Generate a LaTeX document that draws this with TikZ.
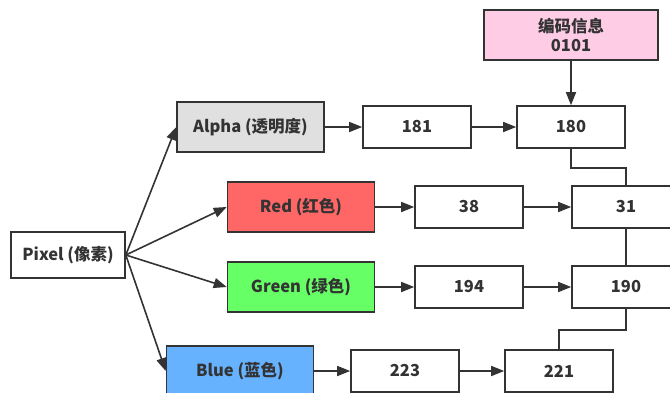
\documentclass[tikz,border=0pt]{standalone}
\usepackage{fontspec}
\setmainfont{Noto Sans CJK SC}
\usetikzlibrary{arrows.meta}
\definecolor{linegray}{HTML}{333333}
\definecolor{alphagray}{HTML}{E0E0E0}
\definecolor{redfill}{HTML}{FF6666}
\definecolor{greenfill}{HTML}{66FF66}
\definecolor{bluefill}{HTML}{66B2FF}
\definecolor{infopink}{HTML}{FFCCE6}
\tikzstyle{box}=[rectangle,draw=linegray,line width=1.6pt,inner sep=0pt,text=linegray,font=\bfseries\fontsize{16.5}{19}\selectfont]
\tikzstyle{channel}=[box,minimum width=147pt,minimum height=50pt]
\tikzstyle{value}=[box,minimum width=108pt,minimum height=42pt]
\tikzstyle{arrow}=[draw=linegray,line width=1.6pt,-{Triangle[length=13pt,width=10pt]}]
\tikzstyle{link}=[draw=linegray,line width=1.6pt]

\begin{document}
\begin{tikzpicture}[x=1pt,y=-1pt]
\useasboundingbox (0,0) rectangle (670,392);
\node[box,minimum width=114pt,minimum height=46pt] (pixel) at (68,255) {Pixel (像素)};
\node[channel,fill=alphagray] (alpha) at (250.5,127) {Alpha (透明度)};
\node[channel,fill=redfill]   (red)   at (301,207)   {Red (红色)};
\node[channel,fill=greenfill] (green) at (301,287)   {Green (绿色)};
\node[channel,fill=bluefill]  (blue)  at (240,371)   {Blue (蓝色)};

\node[value] (a181) at (417,127) {181};
\node[value] (a180) at (571,127) {180};
\node[value] (r38)  at (469,207) {38};
\node[value] (r31)  at (626,207) {31};
\node[value] (g194) at (469,287) {194};
\node[value] (g190) at (626,287) {190};
\node[value] (b223) at (405,371) {223};
\node[value] (b221) at (559,371) {221};
\node[box,fill=infopink,minimum width=174pt,minimum height=50pt,align=center] (info) at (571,35) {编码信息\\0101};

\draw[arrow] (pixel.east) -- (alpha.west);
\draw[arrow] (pixel.east) -- (red.west);
\draw[arrow] (pixel.east) -- (green.west);
\draw[arrow] (pixel.east) -- (blue.west);

\draw[arrow] (alpha) -- (a181);
\draw[arrow] (a181) -- (a180);
\draw[arrow] (red) -- (r38);
\draw[arrow] (r38) -- (r31);
\draw[arrow] (green) -- (g194);
\draw[arrow] (g194) -- (g190);
\draw[arrow] (blue) -- (b223);
\draw[arrow] (b223) -- (b221);
\draw[arrow] (info) -- (a180);

\draw[link] (a180.south) -- ++(0,19) -| (r31.north);
\draw[link] (r31) -- (g190);
\draw[link] (g190.south) -- ++(0,21) -| (b221.north);

\end{tikzpicture}
\end{document}
